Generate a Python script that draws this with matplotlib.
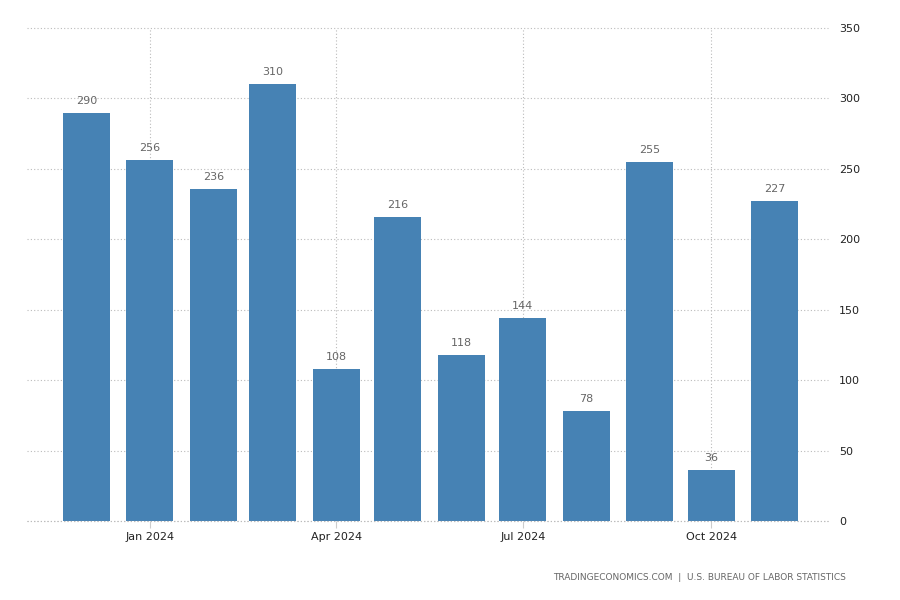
import matplotlib
matplotlib.use("Agg")
import matplotlib.pyplot as plt
import matplotlib.dates as mdates
import datetime as dt

months = ["2023-12", "2024-01", "2024-02", "2024-03", "2024-04", "2024-05",
          "2024-06", "2024-07", "2024-08", "2024-09", "2024-10", "2024-11"]
values = [290, 256, 236, 310, 108, 216, 118, 144, 78, 255, 36, 227]
tick_months = ["2024-01", "2024-04", "2024-07", "2024-10"]
tick_labels = ["Jan 2024", "Apr 2024", "Jul 2024", "Oct 2024"]
yticks = [0, 50, 100, 150, 200, 250, 300, 350]
source = "TRADINGECONOMICS.COM  |  U.S. BUREAU OF LABOR STATISTICS"

def to_date(s):
    y, m = s.split("-")
    return dt.datetime(int(y), int(m), 1)

dates = [mdates.date2num(to_date(m)) for m in months]
tdates = [mdates.date2num(to_date(m)) for m in tick_months]

fig = plt.figure(figsize=(9, 6), dpi=100)
ax = fig.add_axes([0.03, 0.1317, 0.89, 0.8216])

ax.bar(dates, values, width=23, color="#4682b4", zorder=3)
for x, v in zip(dates, values):
    ax.annotate(str(v), (x, v), xytext=(0, 5), textcoords="offset points",
                ha="center", va="bottom", fontsize=8, color="#666666")

ax.set_xlim(mdates.date2num(dt.datetime(2023, 11, 2)), mdates.date2num(dt.datetime(2024, 11, 27)))
ax.set_ylim(0, 350)
ax.set_yticks(yticks)
ax.set_xticks(tdates)
ax.set_xticklabels(tick_labels)
ax.yaxis.tick_right()
ax.tick_params(axis="y", length=0, pad=8, labelsize=8, colors="#222222")
ax.tick_params(axis="x", length=5, width=0.8, color="#cccccc", labelsize=8, labelcolor="#222222", pad=3)
for s in ax.spines.values():
    s.set_visible(False)
ax.grid(True, axis="both", linestyle=(0, (1, 2)), color="#bbbbbb", linewidth=0.8, zorder=0)
for gl in ax.get_ygridlines():
    gl.set_clip_on(False)
ax.axhline(0, linestyle=(0, (1, 2)), color="#bbbbbb", linewidth=0.8, zorder=4, clip_on=False)

fig.text(0.94, 0.038, source, ha="right", va="center", fontsize=6.5, color="#666666")

fig.savefig("out.png", dpi=100, facecolor="white")
